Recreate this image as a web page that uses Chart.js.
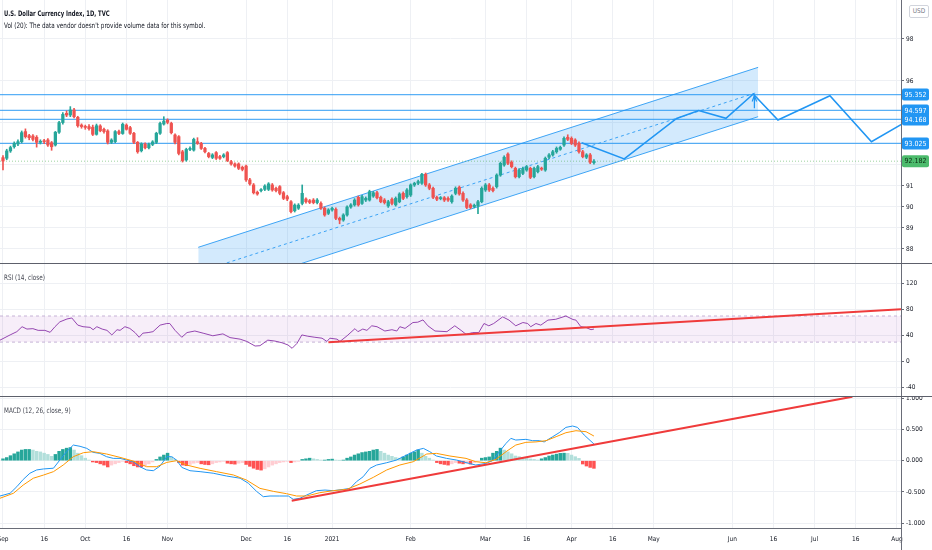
<!DOCTYPE html>
<html>
<head>
<meta charset="utf-8">
<script src="https://cdn.jsdelivr.net/npm/chart.js@4.4.1/dist/chart.umd.min.js"></script>
<style>
  body { margin: 0; background: #fff; }
  #wrap { position: relative; width: 932px; height: 550px; overflow: hidden; background: #fff;
          font-family: 'Liberation Sans Narrow', 'DejaVu Sans Condensed', 'Liberation Sans', sans-serif; color: #131722; }
  .pane { position: relative; width: 932px; }
  .lbl { position: absolute; left: 4px; font-size: 7.5px; white-space: nowrap; transform-origin: 0 0; transform: scaleX(0.84); }
  #usd { position: absolute; left: 909px; top: 5px; width: 18px; height: 11px; border: 1px solid #d1d4dc; border-radius: 2px;
         font-size: 6.5px; line-height: 11px; text-align: center; color: #787b86; background: #fff; }
  #axisTail { position: absolute; left: 901px; top: 528px; width: 1px; height: 22px; background: #6a6d78; }
</style>
</head>
<body>
<div id="wrap">
  <div class="pane" style="height:263px;border-bottom:1px solid #5d606b"><canvas id="cMain"></canvas></div>
  <div class="pane" style="height:132px;border-bottom:1px solid #5d606b"><canvas id="cRsi"></canvas></div>
  <div class="pane" style="height:153px"><canvas id="cMacd"></canvas></div>
  <div class="lbl" style="top:9px;font-weight:bold;transform:scaleX(0.78)">U.S. Dollar Currency Index, 1D, TVC</div>
  <div class="lbl" style="top:21px">Vol (20): The data vendor doesn't provide volume data for this symbol.</div>
  <div class="lbl" style="top:273px;color:#434651">RSI (14, close)</div>
  <div class="lbl" style="top:406px;color:#434651">MACD (12, 26, close, 9)</div>
  <div id="usd">USD</div>
  <div id="axisTail"></div>
</div>
<script>
// x = trading-day index, 0 = 1 Sep 2020
const tickIdx = [0, 11, 22, 33, 44, 65, 76, 88, 109, 129, 140, 152, 163, 174, 195, 206, 217, 228, 239];
const tickLabels = ['Sep', '16', 'Oct', '16', 'Nov', 'Dec', '16', '2021', 'Feb', 'Mar', '16', 'Apr', '16', 'May', 'Jun', '16', 'Jul', '16', 'Aug'];

// daily candles
const opens = [92.35,92.32,92.67,92.87,93.00,93.11,93.59,93.40,93.38,93.32,93.08,93.13,93.19,93.06,92.95,93.56,94.02,94.46,94.38,94.62,
  94.27,93.90,93.83,93.83,93.80,93.46,93.86,93.70,93.62,93.08,93.11,93.59,93.50,93.90,93.78,93.51,93.08,92.68,93.00,92.82,
  92.98,93.08,93.51,93.95,94.14,93.98,93.43,93.35,92.63,92.24,92.74,92.71,93.11,93.03,92.79,92.55,92.36,92.59,92.40,92.40,
  92.59,92.16,92.05,92.05,91.89,91.95,91.29,91.05,90.70,90.78,90.84,90.84,91.05,90.89,90.97,90.68,90.49,90.25,89.82,89.94,
  90.17,90.38,90.30,90.33,90.21,90.17,89.94,89.70,89.86,89.89,89.46,89.38,89.62,90.00,90.10,90.46,90.17,90.33,90.33,90.52,
  90.68,90.46,90.33,90.05,90.37,90.10,90.25,90.65,90.49,90.57,91.05,91.13,91.13,91.56,91.05,90.89,90.46,90.40,90.44,90.41,
  90.25,90.65,90.94,90.65,90.33,90.10,90.02,90.05,90.25,90.81,91.05,90.89,90.97,91.52,92.00,92.52,92.13,91.84,91.44,91.60,
  91.76,91.84,91.44,91.68,91.84,91.76,92.37,92.48,92.63,92.75,92.95,93.32,93.27,93.19,93.03,92.63,92.37,92.48,92.11];
const highs = [92.45,92.75,92.90,93.10,93.20,93.62,93.72,93.46,93.45,93.40,93.20,93.22,93.26,93.12,93.60,94.08,94.50,94.58,94.78,94.70,
  94.32,93.96,93.90,93.92,93.90,93.95,93.92,93.76,93.68,93.25,93.64,93.66,94.00,93.96,93.84,93.56,93.12,93.06,93.06,93.04,
  93.16,93.56,94.04,94.30,94.20,94.04,93.48,93.40,92.70,92.80,92.86,93.28,93.30,93.08,92.84,92.60,92.54,92.64,92.46,92.54,
  92.64,92.22,92.10,92.10,91.95,92.00,91.36,91.12,90.76,90.88,91.06,91.16,91.12,90.95,91.02,90.74,90.56,90.30,90.15,90.16,
  91.05,90.44,90.36,90.40,90.40,90.24,90.00,89.92,90.00,89.96,89.52,89.68,90.06,90.16,90.40,90.52,90.56,90.48,90.80,90.74,
  90.74,90.52,90.40,90.32,90.44,90.48,90.68,90.72,90.88,91.10,91.18,91.28,91.60,91.62,91.12,90.95,90.52,90.50,90.50,90.48,
  90.58,90.96,91.00,90.72,90.40,90.16,90.14,90.32,90.96,91.12,91.12,90.96,91.58,92.14,92.44,92.58,92.20,91.90,91.82,91.90,
  91.98,91.90,91.90,91.98,91.90,92.38,92.54,92.70,92.86,92.90,93.34,93.44,93.34,93.25,93.10,92.70,92.54,92.55,92.26];
const lows = [91.76,92.25,92.60,92.80,92.92,93.05,93.28,93.20,93.15,92.85,93.00,93.02,92.88,92.70,92.90,93.50,93.95,94.30,94.30,94.24,
  93.80,93.75,93.70,93.66,93.40,93.42,93.58,93.52,93.00,93.02,93.06,93.44,93.46,93.66,93.46,93.02,92.56,92.62,92.76,92.76,
  92.92,93.02,93.46,93.90,93.96,93.48,93.00,92.48,92.14,92.18,92.68,92.66,92.98,92.74,92.58,92.34,92.30,92.26,92.26,92.34,
  92.16,91.99,91.90,91.78,91.72,91.22,91.04,90.62,90.56,90.72,90.78,90.78,90.75,90.72,90.58,90.35,90.30,89.72,89.76,89.88,
  90.10,90.18,90.16,90.15,90.15,89.88,89.56,89.64,89.80,89.40,89.20,89.32,89.56,89.94,90.04,90.04,90.12,90.26,90.28,90.46,
  90.38,90.20,90.14,89.98,90.10,90.04,90.20,90.35,90.42,90.50,90.98,91.06,91.08,90.98,90.82,90.40,90.30,90.34,90.26,90.26,
  90.18,90.58,90.56,90.26,89.92,89.92,89.96,89.68,90.20,90.74,90.74,90.72,90.90,91.46,91.94,92.02,91.86,91.38,91.38,91.54,
  91.70,91.35,91.38,91.62,91.74,91.70,92.30,92.42,92.56,92.70,92.88,93.16,92.97,92.88,92.56,92.34,92.30,92.06,92.04];
const closes = [92.19,92.67,92.83,93.03,93.11,93.54,93.35,93.30,93.22,93.08,93.13,93.11,92.95,92.87,93.56,94.02,94.41,94.38,94.62,94.30,
  93.87,93.83,93.79,93.73,93.46,93.87,93.63,93.59,93.08,93.19,93.59,93.50,93.94,93.70,93.51,93.08,92.63,93.00,92.82,92.98,
  93.10,93.51,93.98,94.09,94.03,93.54,93.08,92.55,92.21,92.74,92.79,93.22,93.03,92.79,92.63,92.40,92.48,92.32,92.32,92.48,
  92.21,92.05,91.95,91.84,91.79,91.29,91.10,90.68,90.62,90.81,91.00,91.10,90.81,90.78,90.65,90.41,90.38,89.78,90.09,90.09,
  90.65,90.25,90.22,90.21,90.33,89.94,89.62,89.86,89.94,89.46,89.38,89.62,90.00,90.10,90.33,90.10,90.49,90.41,90.73,90.68,
  90.44,90.25,90.21,90.25,90.17,90.41,90.62,90.41,90.81,91.05,91.13,91.21,91.56,91.05,90.89,90.46,90.37,90.44,90.33,90.33,
  90.52,90.89,90.62,90.33,89.98,89.98,90.08,90.25,90.89,91.05,90.81,90.78,91.52,92.08,92.37,92.08,91.92,91.44,91.76,91.84,
  91.92,91.41,91.84,91.92,91.80,92.32,92.48,92.63,92.79,92.84,93.27,93.22,93.03,92.95,92.63,92.40,92.48,92.13,92.18];

// drawn price levels and last close
const levels = [95.352, 94.597, 94.168, 93.025];
const lastClose = 92.182;

// parallel channel (left and right ends)
const chanX = [52.2, 201.9];
const chanUp = [88.08, 96.65];
const chanMid = [86.90, 95.47];
const chanLow = [85.73, 94.30];

// projected path
const pathX = [154.7, 166.1, 180.1, 186.0, 193.3, 200.6, 207.2, 221.1, 232.2, 240.3];
const pathY = [93.06, 92.29, 94.22, 94.59, 94.22, 95.38, 94.14, 95.30, 93.11, 93.94];
const arrowX = [200.3, 200.9, 201.5];
const arrowY = [95.02, 95.30, 95.02];
const arrowShaftX = [200.9, 200.9];
const arrowShaftY = [94.70, 95.30];

// RSI (14)
const rsiX = [-0.8,1.9,3.7,5.1,6.4,8.0,9.4,11.2,12.6,13.9,15.2,17.1,18.4,20.0,21.4,23.3,24.1,25.1,26.5,27.8,
  29.1,30.5,31.3,32.6,33.9,35.3,36.4,37.4,38.8,40.1,42.0,43.8,44.6,46.0,47.8,49.2,51.3,53.5,56.1,58.8,
  60.7,63.4,65.2,67.4,68.7,70.8,72.7,74.6,76.2,77.3,78.6,79.9,81.5,83.4,85.3,86.6,87.4,89.3,90.1,92.0,
  94.1,94.9,96.2,97.3,98.6,100.0,102.1,104.0,105.3,106.1,107.5,109.6,110.9,112.3,113.6,115.5,118.7,120.8,122.7,123.8,
  125.6,127.2,128.6,129.9,131.2,133.6,135.3,137.1,139.0,140.3,141.1,142.5,143.8,145.7,147.8,150.5,152.4,153.2,154.5,155.8,157.2,158.0];
const rsiY = [33,41,46,53.6,50,50.6,48,48,45,53.6,61,65.4,67,56,53.6,52.6,49,53.6,50,48,
  41,49,48,53.6,51,44.6,37.4,43.7,44.6,46,56,58.5,58.5,48,37.4,44.6,47,43.7,39.7,42.6,
  36.9,34.5,31,24,24.5,33,31.6,29,25.6,20.5,28,41,39,37.4,36,31,36,34.5,31,39.7,
  50.6,46,50,48,55,53.6,47,49,47,53.6,51,60,60.5,64,55,47,46,55,47,42,
  44.6,44.6,58.5,55,58.5,68.7,63.7,55,60,58.5,53.6,58.5,56,63.7,65,70,64.6,63.7,53.6,52.6,49,50];
const rsiBand = [70, 30];
const rsiTrendX = [87.0, 240.1];
const rsiTrendY = [29.7, 80.3];

// MACD (12, 26, 9)
const macdX = [-0.8,1.9,3.7,5.4,7.2,9.0,10.8,13.5,15.2,17.0,18.8,20.6,22.4,24.1,25.9,27.7,29.5,31.3,33.1,34.8,
  36.6,38.4,40.2,42.0,43.8,45.1,46.4,47.8,50.0,52.7,56.2,59.8,63.4,65.6,67.8,69.6,71.4,74.0,76.3,77.6,
  79.4,81.2,83.8,86.1,88.3,91.0,92.8,94.5,96.3,98.1,99.9,102.6,105.2,107.9,110.6,112.4,114.1,115.9,118.6,121.3,
  123.8,126.4,129.1,130.9,132.7,134.5,135.8,137.1,139.8,141.6,143.4,144.7,147.0,148.7,150.5,152.3,153.6,155.4,158.0];
const macdY = [-0.564,-0.52,-0.415,-0.30,-0.20,-0.148,-0.132,-0.12,0.01,0.144,0.25,0.23,0.197,0.133,0.117,0.064,0.037,0.037,0.01,-0.016,
  -0.096,-0.148,-0.16,-0.085,0.064,0.064,0.01,-0.107,-0.16,-0.175,-0.20,-0.245,-0.28,-0.36,-0.49,-0.575,-0.564,-0.564,-0.564,-0.617,
  -0.60,-0.548,-0.479,-0.469,-0.479,-0.458,-0.442,-0.336,-0.256,-0.122,-0.069,-0.032,0.01,0.09,0.17,0.197,0.144,0.075,0.037,0.01,
  -0.03,-0.069,-0.043,0,0.144,0.277,0.357,0.33,0.341,0.32,0.32,0.30,0.384,0.447,0.532,0.554,0.532,0.41,0.267];
const signalX = [-0.8,2.8,5.4,8.1,10.8,13.5,16.1,18.8,21.5,24.1,27.7,31.3,34.8,38.4,41.1,43.8,46.4,49.1,52.7,57.1,
  61.6,65.1,68.7,72.3,75.8,78.5,81.2,84.7,88.3,91.9,95.4,99.0,102.6,106.1,109.7,113.3,115.9,119.5,123.8,126.4,
  129.1,131.8,134.5,137.1,139.8,142.5,145.2,147.9,150.5,153.2,155.9,158.0];
const signalY = [-0.60,-0.52,-0.389,-0.28,-0.23,-0.175,-0.069,0.064,0.128,0.144,0.107,0.053,-0.005,-0.096,-0.096,-0.027,0,-0.069,-0.122,-0.175,
  -0.228,-0.309,-0.442,-0.49,-0.527,-0.564,-0.564,-0.511,-0.479,-0.458,-0.373,-0.266,-0.148,-0.069,-0.016,0.107,0.117,0.075,0.037,-0.016,
  -0.032,0.021,0.144,0.25,0.293,0.30,0.32,0.384,0.447,0.479,0.463,0.394];
const hist = [0.03,0.05,0.08,0.11,0.14,0.17,0.18,0.18,0.17,0.15,0.14,0.12,0.10,0.07,0.10,0.15,0.18,0.20,0.21,0.17,
  0.12,0.08,0.04,0.01,-0.02,-0.03,-0.05,-0.07,-0.10,-0.07,-0.05,-0.03,-0.01,-0.03,-0.05,-0.08,-0.10,-0.10,-0.08,-0.05,
  -0.02,0.02,0.06,0.09,0.12,0.06,0.02,-0.03,-0.07,-0.08,-0.06,-0.04,-0.03,-0.05,-0.06,-0.065,-0.05,-0.03,-0.02,-0.01,
  -0.04,-0.05,-0.055,-0.04,-0.03,-0.06,-0.09,-0.12,-0.14,-0.15,-0.13,-0.10,-0.07,-0.05,-0.03,-0.02,-0.01,-0.03,-0.02,-0.01,
  0.02,0.03,0.04,0.03,0.02,0.01,0.01,0.02,0.025,0.01,0.005,0.01,0.04,0.06,0.09,0.11,0.13,0.14,0.15,0.17,
  0.18,0.15,0.12,0.09,0.07,0.05,0.04,0.06,0.09,0.12,0.14,0.17,0.12,0.07,0.04,0.01,-0.03,-0.05,-0.06,-0.07,
  -0.05,-0.03,-0.04,-0.05,-0.045,-0.055,-0.03,-0.01,0.04,0.05,0.06,0.12,0.15,0.20,0.17,0.14,0.11,0.075,0.064,0.048,
  0.037,0.027,0.02,0.01,0.03,0.05,0.075,0.09,0.105,0.117,0.12,0.117,0.09,0.064,0.037,-0.053,-0.085,-0.107,-0.122];
const macdTrendX = [77.2, 227.1];
const macdTrendY = [-0.639, 1.022];

// y tick lists per pane
const mainTicks = [88, 89, 90, 91, 92, 93, 94, 96, 98, 100];
const rsiTicks = [-40, 0, 40, 80, 120];
const macdTicks = [-1, -0.5, 0, 0.5, 1];

const FONT = "'Liberation Sans Narrow', 'DejaVu Sans Condensed', 'Liberation Sans', sans-serif";
const GRID = '#eef0f4';
const AXIS = '#6a6d78';
const TXT = '#131722';
const UP = '#26a69a', DOWN = '#ef5350';
const BLUE = '#2196f3';
const X_MIN = -0.8, X_MAX = 240.1;

Chart.defaults.font.family = FONT;
Chart.defaults.animation = false;

function pts(xs, ys) { return xs.map((x, i) => ({ x: x, y: ys[i] })); }
function flat(v) { return [{ x: X_MIN, y: v }, { x: X_MAX, y: v }]; }

function xScale(show) {
  return {
    type: 'linear', min: X_MIN, max: X_MAX, offset: false,
    afterBuildTicks: s => { s.ticks = tickIdx.map(v => ({ value: v })); },
    grid: { color: GRID, drawTicks: false, offset: false },
    border: { display: show, color: AXIS },
    ticks: { display: show, autoSkip: false, maxRotation: 0, padding: 7, color: TXT,
             font: { size: 6.5 }, callback: (v, i) => tickLabels[i] },
    afterFit: s => { s.height = show ? 22 : 0; s.paddingLeft = 0; s.paddingRight = 0; }
  };
}
function yScale(min, max, list, fmt) {
  return {
    type: 'linear', position: 'right', min: min, max: max,
    afterBuildTicks: s => { s.ticks = list.map(v => ({ value: v })); },
    grid: { color: GRID, tickColor: AXIS, tickLength: 3 },
    border: { color: AXIS },
    ticks: { color: TXT, padding: 2, font: { size: 6.5 }, callback: fmt },
    afterFit: s => { s.width = 31; s.paddingTop = 0; s.paddingBottom = 0; }
  };
}
function baseOpts(scales) {
  return {
    responsive: true, maintainAspectRatio: false, events: [],
    layout: { padding: 0 },
    plugins: { legend: { display: false }, tooltip: { enabled: false } },
    scales: scales
  };
}
function line(data, color, width, extra) {
  return Object.assign({ type: 'line', data: data, borderColor: color, borderWidth: width,
    pointRadius: 0, tension: 0, fill: false }, extra || {});
}

// price boxes on the right axis
const priceTags = {
  id: 'priceTags',
  afterDraw(chart) {
    const ctx = chart.ctx, ys = chart.scales.y;
    ctx.save();
    ctx.font = '7px ' + FONT;
    ctx.textAlign = 'center';
    ctx.textBaseline = 'middle';
    const draw = (v, bg, fg) => {
      const py = ys.getPixelForValue(v);
      ctx.fillStyle = bg;
      ctx.beginPath();
      ctx.roundRect(ys.left + 1, py - 6, ys.width - 4, 12, 2);
      ctx.fill();
      ctx.fillStyle = fg;
      ctx.fillText(v.toFixed(3), ys.left + 1 + (ys.width - 4) / 2, py + 0.5);
    };
    levels.forEach(v => draw(v, BLUE, '#ffffff'));
    draw(lastClose, '#4cbb6c', '#0b2e13');
    ctx.restore();
  }
};

const candleColors = closes.map((c, i) => c >= opens[i] ? UP : DOWN);

new Chart(document.getElementById('cMain'), {
  type: 'bar',
  data: {
    datasets: [
      { type: 'bar', data: opens.map((o, i) => ({ x: i, y: [o, closes[i]] })), backgroundColor: candleColors,
        barThickness: 2.6, grouped: false, minBarLength: 1, order: 0 },
      { type: 'bar', data: lows.map((l, i) => ({ x: i, y: [l, highs[i]] })), backgroundColor: candleColors,
        barThickness: 1, grouped: false, order: 1 },
      line(pts(pathX, pathY), BLUE, 1.6, { order: 2 }),
      line(pts(arrowX, arrowY), BLUE, 1.2, { order: 2 }),
      line(pts(arrowShaftX, arrowShaftY), BLUE, 1.2, { order: 2 }),
      ...levels.map(v => line(flat(v), 'rgba(33,150,243,0.75)', 1.3, { order: 3 })),
      line(flat(lastClose), 'rgba(76,175,80,0.55)', 1, { borderDash: [1, 2], order: 3 }),
      line(pts(chanX, chanUp), 'rgba(33,150,243,0.85)', 1, { order: 5 }),
      line(pts(chanX, chanLow), 'rgba(33,150,243,0.85)', 1, { order: 5, fill: '-1', backgroundColor: 'rgba(33,150,243,0.2)' }),
      line(pts(chanX, chanMid), 'rgba(33,150,243,0.85)', 1, { order: 4, borderDash: [3, 3] })
    ]
  },
  options: baseOpts({
    x: xScale(false),
    y: yScale(87.333, 99.857, mainTicks, v => String(v))
  }),
  plugins: [priceTags]
});

new Chart(document.getElementById('cRsi'), {
  type: 'line',
  data: {
    datasets: [
      line(pts(rsiX, rsiY), '#9446b0', 1, { order: 1 }),
      line(pts(rsiTrendX, rsiTrendY), '#ef3b3b', 2, { order: 0 }),
      line(flat(rsiBand[0]), '#c6b3d6', 1, { borderDash: [3, 3], order: 3 }),
      line(flat(rsiBand[1]), '#c6b3d6', 1, { borderDash: [3, 3], order: 3, fill: '-1', backgroundColor: 'rgba(156,39,176,0.08)' })
    ]
  },
  options: baseOpts({
    x: xScale(false),
    y: yScale(-52.6, 149.7, rsiTicks, v => String(v))
  })
});

new Chart(document.getElementById('cMacd'), {
  type: 'bar',
  data: {
    datasets: [
      { type: 'bar', data: hist.map((v, i) => ({ x: i, y: v })), grouped: false, barThickness: 2.8, order: 3,
        backgroundColor: hist.map((v, i) => {
          const prev = i > 0 ? hist[i - 1] : v;
          if (v >= 0) return v >= prev ? '#26a69a' : '#b2dfdb';
          return v <= prev ? '#ff5252' : '#ffcdd2';
        }) },
      line(pts(macdX, macdY), BLUE, 1, { order: 2 }),
      line(pts(signalX, signalY), '#ff9800', 1, { order: 1 }),
      line(pts(macdTrendX, macdTrendY), '#ef3b3b', 2, { order: 0 })
    ]
  },
  options: baseOpts({
    x: xScale(true),
    y: yScale(-1.0751, 1.0176, macdTicks, v => v.toFixed(3))
  })
});
</script>
</body>
</html>
